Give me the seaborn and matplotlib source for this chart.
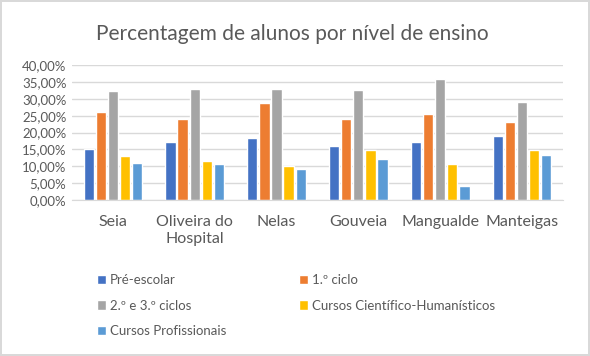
import pandas as pd
import matplotlib
matplotlib.use("Agg")
import matplotlib.pyplot as plt
import seaborn as sns
from matplotlib.ticker import FuncFormatter

concelhos = ["Seia", "Oliveira do\nHospital", "Nelas", "Gouveia", "Mangualde", "Manteigas"]
niveis = ["Pré-escolar", "1.º ciclo", "2.º e 3.º ciclos",
          "Cursos Científico-Humanísticos", "Cursos Profissionais"]
pre_escolar = [15.2, 17.3, 18.5, 16.1, 17.3, 19.1]
ciclo1 = [26.2, 24.1, 28.9, 24.1, 25.6, 23.0]
ciclo23 = [32.3, 32.9, 32.9, 32.6, 35.9, 29.1]
cientifico = [13.0, 11.7, 10.2, 14.7, 10.8, 14.9]
profissionais = [11.1, 10.8, 9.1, 12.3, 4.3, 13.5]
cores = ["#4472C4", "#ED7D31", "#A5A5A5", "#FFC000", "#5B9BD5"]

# long format table for seaborn
series = [pre_escolar, ciclo1, ciclo23, cientifico, profissionais]
rows = []
for nivel, vals in zip(niveis, series):
    for c, v in zip(concelhos, vals):
        rows.append({"concelho": c, "nivel": nivel, "valor": v})
df = pd.DataFrame(rows)

sns.set_style("white")
plt.rcParams["font.family"] = ["Lato", "DejaVu Sans"]
texto = "#595959"

fig = plt.figure(figsize=(5.9, 3.56), dpi=100)
fig.patch.set_edgecolor("#D9D9D9")
fig.patch.set_linewidth(1.5)
ax = fig.add_axes([0.122, 0.438, 0.832, 0.379])

sns.barplot(data=df, x="concelho", y="valor", hue="nivel", palette=cores,
            width=0.74, gap=0.15, saturation=1, ax=ax, legend=True)

ax.set_ylim(0, 40)
ax.set_yticks(range(0, 41, 5))
ax.yaxis.set_major_formatter(FuncFormatter(lambda v, p: f"{v:.2f}%".replace(".", ",")))
ax.grid(axis="y", color="#D9D9D9", linewidth=1)
ax.set_axisbelow(True)
for s in ["top", "right", "left"]:
    ax.spines[s].set_visible(False)
ax.spines["bottom"].set_color("#D9D9D9")
ax.tick_params(axis="y", labelsize=9.5, colors=texto, length=0, pad=4)
ax.tick_params(axis="x", labelsize=11.5, colors=texto, length=0, pad=11)
ax.set_xlabel("")
ax.set_ylabel("")

fig.text(0.495, 0.905, "Percentagem de alunos por nível de ensino",
         ha="center", va="center", fontsize=15, color=texto)

# legend filled row by row like the original
handles, labels = ax.get_legend_handles_labels()
ax.get_legend().remove()
ordem = [0, 2, 4, 1, 3]
fig.legend([handles[i] for i in ordem], [labels[i] for i in ordem], ncol=2,
           loc="upper left", bbox_to_anchor=(0.155, 0.244),
           frameon=False, fontsize=9.5, labelcolor=texto, handlelength=0.7,
           handleheight=0.7, handletextpad=0.3, columnspacing=5.5,
           labelspacing=1.0, borderaxespad=0)

fig.savefig("out.png", dpi=100)
